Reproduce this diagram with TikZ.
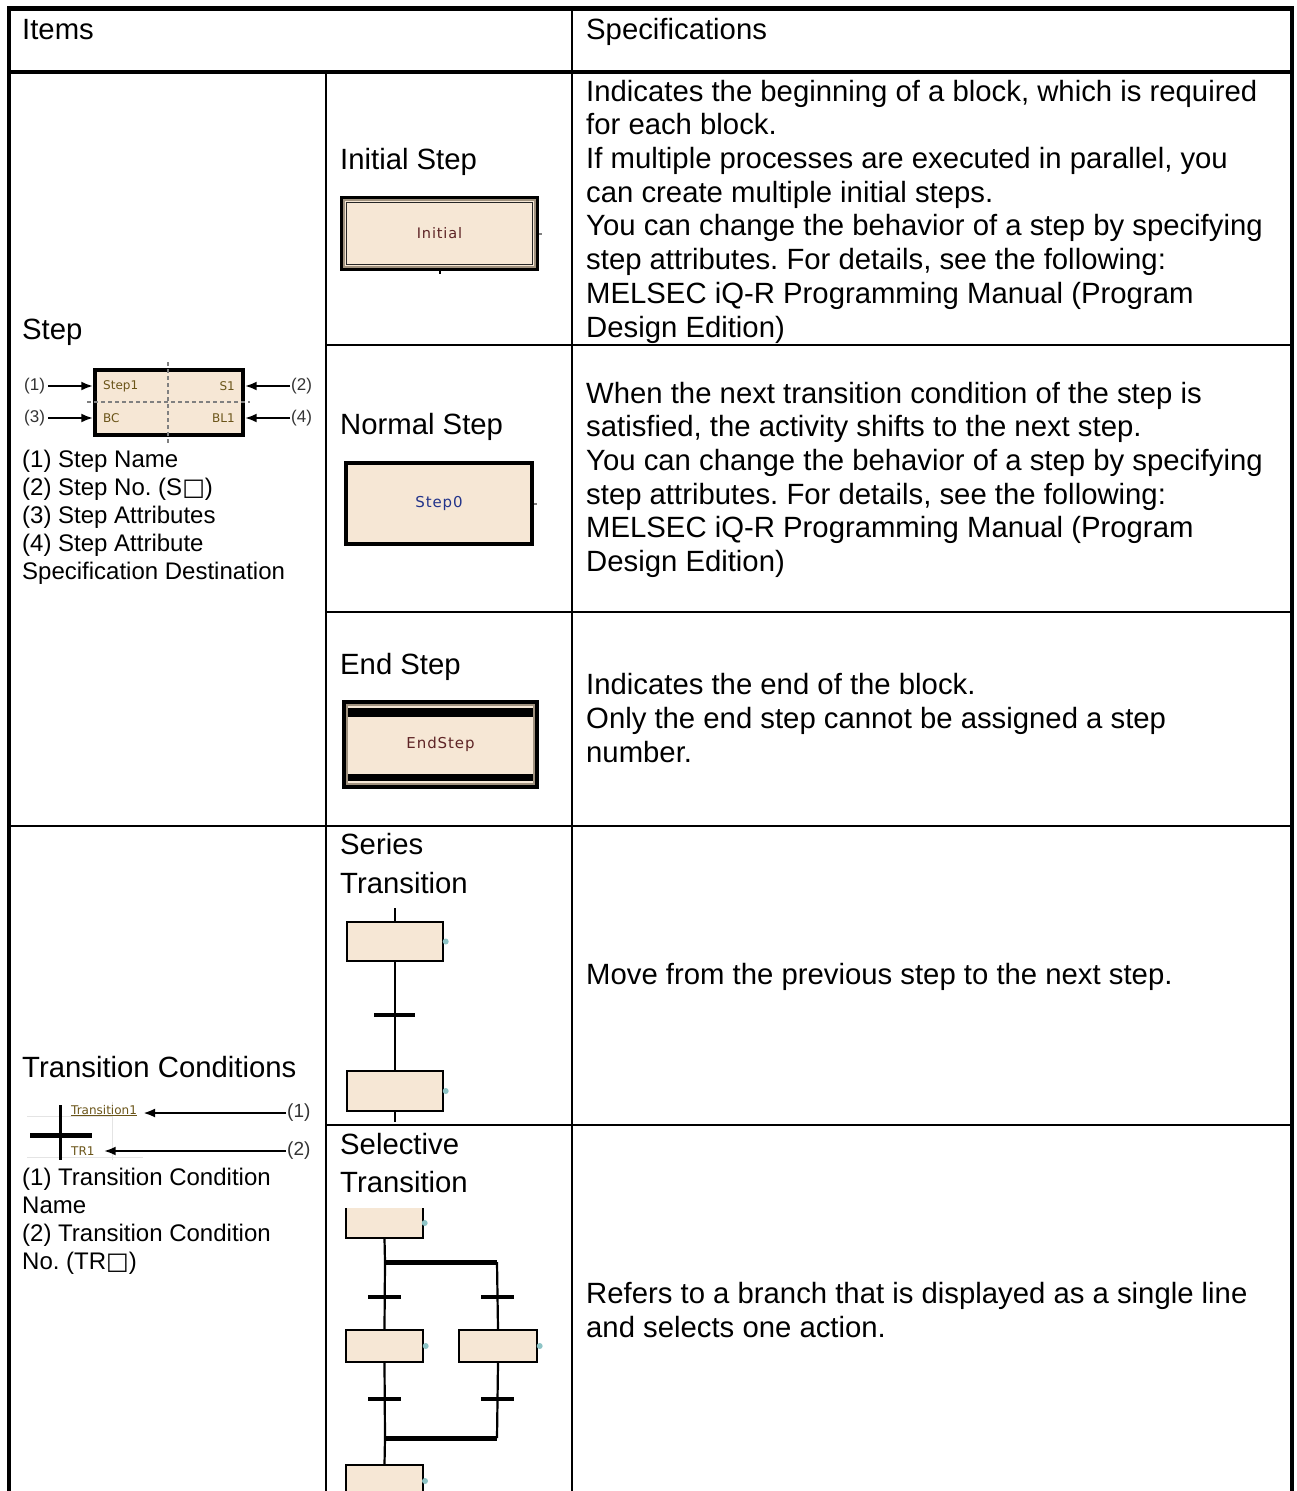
\documentclass[tikz,border=0pt]{standalone}
\usepackage{fontspec}
\setmainfont{Liberation Sans}
\newfontfamily\pixfont[LetterSpace=6]{DejaVu Sans}
\newfontfamily\symfont{DejaVu Sans}
\usetikzlibrary{arrows.meta}
\frenchspacing

\definecolor{stepbg}{HTML}{F6E7D5}
\definecolor{dotc}{HTML}{8EC4C6}
\definecolor{tanline}{HTML}{A0927F}
\definecolor{attrtxt}{HTML}{6A5418}
\definecolor{maroon}{HTML}{5E2426}
\definecolor{stepblue}{HTML}{23348A}
\definecolor{faint}{HTML}{E4E4E4}

\newcommand\bodyfont{\fontsize{29.3}{33.7}\selectfont}
\newcommand\cellsmall{\fontsize{24}{28}\selectfont}
\newcommand\lblfont{\fontsize{17}{20}\selectfont}
\newcommand\lblbig{\fontsize{19}{22}\selectfont}
\newcommand\attrfont{\symfont\fontsize{12}{14}\selectfont}
\newcommand\sq{{\symfont\char"25A1}}

\begin{document}
\begin{tikzpicture}[x=1pt,y=-1pt,
  txt/.style={inner sep=0pt, align=left, anchor=north west},
  oneline/.style={inner sep=0pt, anchor=base west},
  rule/.style={line width=2.2pt, line cap=rect},
  stepframe/.style={fill=stepbg, draw=black, inner sep=0pt},
  sfcbox/.style={fill=stepbg, draw=black, line width=2.4pt, inner sep=0pt},
  sfcfill/.style={fill=stepbg, draw=none, inner sep=0pt},
  link/.style={line width=2.2pt},
  tick/.style={line width=4.5pt},
  bar/.style={line width=5pt},
  arr/.style={line width=2.8pt, -{Latex[length=12pt,width=9pt]}},
  dot/.style={fill=dotc, draw=none}
]
\useasboundingbox (0,0) rectangle (1296,1491);

% ---------- table rules ----------
\draw[line width=4pt] (9,6) -- (9,1491);
\draw[line width=3.5pt] (1292,6) -- (1292,1491);
\draw[line width=5pt] (7,8.5) -- (1294,8.5);
\draw[line width=4pt] (7,72) -- (1294,72);
\draw[rule] (572,8) -- (572,1491);
\draw[rule] (326,72) -- (326,1491);
\draw[rule] (326,345) -- (1292,345);
\draw[rule] (326,612) -- (1292,612);
\draw[rule] (9,826) -- (1292,826);
\draw[rule] (326,1125) -- (1292,1125);

% ---------- header ----------
\node[oneline, font=\bodyfont] (hItems) at (22,39) {Items};
\node[oneline, font=\bodyfont] (hSpec) at (586,39) {Specifications};

% ---------- Step (left column) ----------
\node[oneline, font=\bodyfont] (stepT) at (22,339) {Step};
\node[stepframe, line width=3.4pt, minimum width=148pt, minimum height=65pt] (sd) at (169,402.5) {};
\draw[gray, line width=2.5pt, dash pattern=on 4pt off 3pt] (168,362) -- (168,443);
\draw[gray, line width=2.5pt, dash pattern=on 4pt off 3pt] (87,402) -- (250,402);
\node[anchor=west, inner sep=0pt, font=\attrfont, text=attrtxt] (sName) at (103,386) {Step1};
\node[anchor=east, inner sep=0pt, font=\attrfont, text=attrtxt] (sNo) at (235,386) {S1};
\node[anchor=west, inner sep=0pt, font=\attrfont, text=attrtxt] (sAttr) at (103,418) {BC};
\node[anchor=east, inner sep=0pt, font=\attrfont, text=attrtxt] (sDest) at (235,418) {BL1};
\node[anchor=west, inner sep=0pt, font=\lblfont, text=black!80] (l1) at (24,386) {(1)};
\node[anchor=west, inner sep=0pt, font=\lblfont, text=black!80] (l3) at (24,418) {(3)};
\node[anchor=west, inner sep=0pt, font=\lblfont, text=black!80] (l2) at (291,386) {(2)};
\node[anchor=west, inner sep=0pt, font=\lblfont, text=black!80] (l4) at (291,418) {(4)};
\draw[arr] ([xshift=3pt]l1.east) -- (sd.west |- l1);
\draw[arr] ([xshift=3pt]l3.east) -- (sd.west |- l3);
\draw[arr] ([xshift=-1pt]l2.west) -- (sd.east |- l2);
\draw[arr] ([xshift=-1pt]l4.west) -- (sd.east |- l4);
\node[txt, font=\cellsmall] (stepList) at (22,447.4) {\strut(1) Step Name\\(2) Step No. (S\sq)\\(3) Step Attributes\\(4) Step Attribute\\Specification Destination};

% ---------- Initial Step ----------
\node[oneline, font=\bodyfont] (iniT) at (340,169) {Initial Step};
\node[stepframe, line width=4pt, minimum width=195pt, minimum height=71pt] (ini) at (439.5,233.5) {};
\draw[tanline, line width=2pt] ([shift={(4.2,4.2)}]ini.north west) rectangle ([shift={(-4.2,-4.2)}]ini.south east);
\draw[black!85, line width=1.4pt] ([shift={(6.5,6.5)}]ini.north west) rectangle ([shift={(-6.5,-6.5)}]ini.south east);
\node[inner sep=0pt, font=\pixfont\fontsize{14.5}{16}\selectfont, text=maroon] (iniL) at (ini.center) {Initial};
\draw[gray, line width=2pt] (ini.east) -- ++(3,0);
\draw[black, line width=2pt] (ini.south) -- ++(0,3);
\node[txt, font=\bodyfont] (spec1) at (586,77.4) {\strut Indicates the beginning of a block, which is required\\for each block.\\If multiple processes are executed in parallel, you\\can create multiple initial steps.\\You can change the behavior of a step by specifying\\step attributes. For details, see the following:\\MELSEC iQ-R Programming Manual (Program\\Design Edition)};

% ---------- Normal Step ----------
\node[oneline, font=\bodyfont] (nrmT) at (340,434) {Normal Step};
\node[stepframe, line width=4pt, minimum width=186pt, minimum height=81pt] (nrm) at (439,503.5) {};
\node[inner sep=0pt, font=\pixfont\fontsize{15}{17}\selectfont, text=stepblue] (nrmL) at (nrm.center) {Step0};
\draw[gray, line width=2pt] (nrm.east) -- ++(3,0);
\node[txt, font=\bodyfont] (spec2) at (586,379.4) {\strut When the next transition condition of the step is\\satisfied, the activity shifts to the next step.\\You can change the behavior of a step by specifying\\step attributes. For details, see the following:\\MELSEC iQ-R Programming Manual (Program\\Design Edition)};

% ---------- End Step ----------
\node[oneline, font=\bodyfont] (endT) at (340,674) {End Step};
\node[stepframe, line width=4pt, minimum width=193pt, minimum height=85pt] (endS) at (440.5,744.5) {};
\draw[tanline, line width=2.5pt] ([shift={(5,5)}]endS.north west) rectangle ([shift={(-5,-5)}]endS.south east);
\fill[black] ([shift={(6,7.5)}]endS.north west) rectangle ([shift={(-6,16.5)}]endS.north east);
\fill[black] ([shift={(6,-15)}]endS.south west) rectangle ([shift={(-6,-8)}]endS.south east);
\node[inner sep=0pt, font=\pixfont\fontsize{15}{17}\selectfont, text=maroon] (endL) at (endS.center) {EndStep};
\node[txt, font=\bodyfont] (spec3) at (586,671) {\strut Indicates the end of the block.\\Only the end step cannot be assigned a step\\number.};

% ---------- Transition Conditions (left column) ----------
\node[oneline, font=\bodyfont] (trT) at (22,1077) {Transition Conditions};
\draw[faint, line width=1pt] (27,1116) -- (112,1116);
\draw[faint, line width=1pt] (27,1157) -- (143,1157);
\draw[faint, line width=1pt] (112,1102) -- (112,1160);
\coordinate (tvTop) at (60,1105);
\coordinate (tvBot) at (60,1160);
\coordinate (tcross) at (60,1135);
\draw[line width=3pt] (tvTop) -- (tvBot);
\draw[bar] ([xshift=-30pt]tcross) -- ([xshift=32pt]tcross);
\node[oneline, font=\attrfont, text=attrtxt] (tName) at (71,1114) {\underline{Transition1}};
\node[oneline, font=\attrfont, text=attrtxt] (tNo) at (71,1155) {TR1};
\node[anchor=west, inner sep=0pt, font=\lblbig, text=black!80] (lt1) at (287,1113) {(1)};
\node[anchor=west, inner sep=0pt, font=\lblbig, text=black!80] (lt2) at (287,1151) {(2)};
\draw[arr] ([xshift=-1pt]lt1.west) -- ([xshift=6pt]tName.east |- lt1);
\draw[arr] ([xshift=-1pt]lt2.west) -- ([xshift=9pt]tNo.east |- lt2);
\node[txt, font=\cellsmall] (trList) at (22,1165.9) {\strut(1) Transition Condition\\Name\\(2) Transition Condition\\No. (TR\sq)};

% ---------- Series Transition ----------
\node[oneline, font=\bodyfont] (serT1) at (340,854) {Series};
\node[oneline, font=\bodyfont] (serT2) at (340,893) {Transition};
\node[sfcbox, minimum width=96pt, minimum height=39pt] (sa) at (395,941.5) {};
\node[sfcbox, minimum width=96pt, minimum height=40pt] (sb) at (395,1091) {};
\coordinate (saIn) at (395,908);
\coordinate (sbOut) at (395,1122);
\coordinate (sTr) at (395,1015);
\draw[link] (saIn) -- (sa.north);
\draw[link] (sa.south) -- (sb.north);
\draw[link] (sb.south) -- (sbOut);
\draw[tick] ([xshift=-21pt]sTr) -- ([xshift=20pt]sTr);
\fill[dot] ([xshift=1.5pt]sa.east) circle (3pt);
\fill[dot] ([xshift=1.5pt]sb.east) circle (3pt);
\node[oneline, font=\bodyfont] (spec4) at (586,984.5) {Move from the previous step to the next step.};

% ---------- Selective Transition ----------
\node[oneline, font=\bodyfont] (selT1) at (340,1154) {Selective};
\node[oneline, font=\bodyfont] (selT2) at (340,1192) {Transition};
\node[sfcfill, minimum width=77pt, minimum height=30pt] (ta) at (384.5,1223) {};
\draw[link] (ta.north west) -- (ta.south west) -- (ta.south east) -- (ta.north east);
\node[sfcbox, minimum width=77pt, minimum height=32pt] (lb) at (384.5,1346) {};
\node[sfcbox, minimum width=78pt, minimum height=32pt] (rb) at (498,1346) {};
\node[sfcfill, minimum width=77pt, minimum height=28pt] (tb) at (384.5,1479) {};
\draw[link] (tb.south west) -- (tb.north west) -- (tb.north east) -- (tb.south east);
\coordinate (j1) at (385,1262);
\coordinate (j1r) at (497,1262);
\coordinate (j2) at (385,1438);
\coordinate (j2r) at (497,1438);
\coordinate (tl1) at (385,1297);
\coordinate (tr1) at (497,1297);
\coordinate (tl2) at (385,1399);
\coordinate (tr2) at (497,1399);
\draw[link] (ta.south) -- (j1);
\draw[link] (j1) -- (lb.north);
\draw[link] (j1r) -- (rb.north);
\draw[link] (lb.south) -- (j2);
\draw[link] (rb.south) -- (j2r);
\draw[link] (j2) -- (tb.north);
\draw[bar] (j1) -- (j1r);
\draw[bar] (j2) -- (j2r);
\draw[tick] ([xshift=-17pt]tl1) -- ([xshift=16pt]tl1);
\draw[tick] ([xshift=-16pt]tr1) -- ([xshift=17pt]tr1);
\draw[tick] ([xshift=-17pt]tl2) -- ([xshift=16pt]tl2);
\draw[tick] ([xshift=-16pt]tr2) -- ([xshift=17pt]tr2);
\fill[dot] ([xshift=1.5pt]ta.east) circle (3pt);
\fill[dot] ([xshift=1.5pt]lb.east) circle (3pt);
\fill[dot] ([xshift=1.5pt]rb.east) circle (3pt);
\fill[dot] (425,1481) circle (3pt);
\node[txt, font=\bodyfont] (spec5) at (586,1280) {\strut Refers to a branch that is displayed as a single line\\and selects one action.};
\end{tikzpicture}
\end{document}
